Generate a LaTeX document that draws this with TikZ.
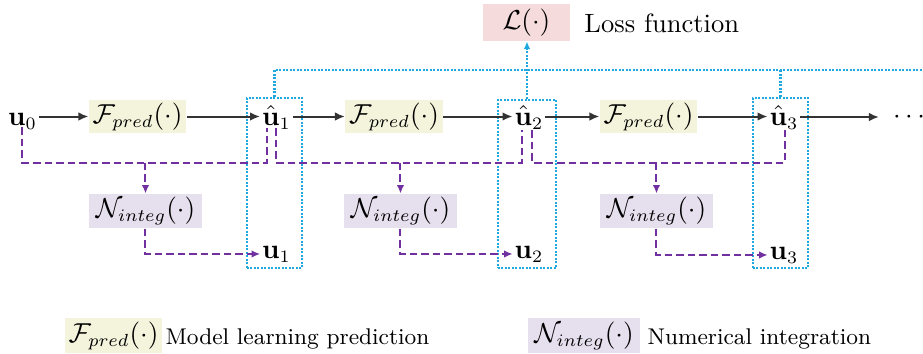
\documentclass[tikz,border=0pt]{standalone}
\usetikzlibrary{arrows.meta,calc}
\definecolor{fcol}{HTML}{F4F4DC}
\definecolor{ncol}{HTML}{E6E0EE}
\definecolor{lcol}{HTML}{F6DBDD}
\definecolor{bl}{HTML}{1FA8E0}
\definecolor{pu}{HTML}{7030A0}
\definecolor{ar}{HTML}{333333}
\begin{document}
\begin{tikzpicture}[x=0.4pt,y=-0.4pt,
 every node/.style={font=\fontsize{10.6}{13}\selectfont},
 fbox/.style={fill=fcol, minimum width=38.8pt, minimum height=13.2pt, inner sep=0pt},
 nbox/.style={fill=ncol, minimum width=45.2pt, minimum height=13.6pt, inner sep=0pt},
 lbox/.style={fill=lcol, minimum width=34.8pt, minimum height=14.8pt, inner sep=0pt},
 lbl/.style={inner sep=0.6pt},
 blubox/.style={draw=bl, line width=1pt, dash pattern=on 0.8pt off 0.6pt},
 blk/.style={draw=ar, line width=0.8pt, -{Latex[length=4pt,width=3.4pt]}},
 pur/.style={draw=pu, line width=0.8pt, dash pattern=on 3pt off 1.6pt},
 purarr/.style={pur, -{Latex[length=3.4pt,width=3pt]}},
 blu/.style={draw=bl, line width=1pt, dash pattern=on 0.8pt off 0.6pt},
 bluarr/.style={blu, -{Latex[length=3pt,width=2.6pt]}},
 legtext/.style={font=\fontsize{9.1}{11}\selectfont, inner sep=0pt, anchor=base west}
]
\useasboundingbox (0,0) rectangle (923,354);

% blue boxes (behind)
\node[blubox, minimum width=22pt, minimum height=68pt] (b1) at (274.5,183) {};
\node[blubox, minimum width=23.2pt, minimum height=67.2pt] (b2) at (527,184) {};
\node[blubox, minimum width=22pt, minimum height=68pt] (b3) at (780.5,183) {};

% loss
\node[lbox] (L) at (526.5,22.5) {$\mathcal{L}(\cdot)$};
\node[inner sep=0pt, anchor=base west] (lt) at (584,32) {Loss function};

% main row
\node[lbl, anchor=base] (u0) at (22.5,125) {$\mathbf{u}_0$};
\node[fbox] (f1) at (137.5,116.5) {$\mathcal{F}_{pred}(\cdot)$};
\node[lbl, anchor=base] (h1) at (276.5,125) {$\hat{\mathbf{u}}_1$};
\node[fbox] (f2) at (394,116.5) {$\mathcal{F}_{pred}(\cdot)$};
\node[lbl, anchor=base] (h2) at (529,125) {$\hat{\mathbf{u}}_2$};
\node[fbox] (f3) at (648.5,116.5) {$\mathcal{F}_{pred}(\cdot)$};
\node[lbl, anchor=base] (h3) at (784,125) {$\hat{\mathbf{u}}_3$};
\node[anchor=west, inner xsep=5.4pt, inner ysep=0pt] (dots) at (879,117) {$\cdots$};

% integration row
\node[nbox] (n1) at (145.5,211) {$\mathcal{N}_{integ}(\cdot)$};
\node[nbox] (n2) at (400.5,211) {$\mathcal{N}_{integ}(\cdot)$};
\node[nbox] (n3) at (656.5,211) {$\mathcal{N}_{integ}(\cdot)$};
\node[lbl, anchor=base] (u1) at (276.5,258) {$\mathbf{u}_1$};
\node[lbl, anchor=base] (u2) at (529,258) {$\mathbf{u}_2$};
\node[lbl, anchor=base] (u3) at (784,259) {$\mathbf{u}_3$};

% black arrows
\draw[blk] (u0.east |- f1.west) -- (f1.west);
\draw[blk] (f1.east) -- (f1.east -| h1.west);
\draw[blk] (h1.east |- f2.west) -- (f2.west);
\draw[blk] (f2.east) -- (f2.east -| h2.west);
\draw[blk] (h2.east |- f3.west) -- (f3.west);
\draw[blk] (f3.east) -- (f3.east -| h3.west);
\draw[blk] (h3.east |- dots.west) -- (dots.west);

% purple dashed
\coordinate (rail) at (0,162.5);
\coordinate (s1) at (22.5,127);
\coordinate (e1) at (267,128);
\coordinate (s2) at (276,128);
\coordinate (e2) at (522,130);
\coordinate (s3) at (532,130);
\coordinate (e3) at (785,128);
\draw[pur] (s1) -- (s1 |- rail) -| (e1);
\draw[pur] (s2) -- (s2 |- rail) -| (e2);
\draw[pur] (s3) -- (s3 |- rail) -| (e3);
\draw[purarr] (n1.north |- rail) -- (n1.north);
\draw[purarr] (n2.north |- rail) -- (n2.north);
\draw[purarr] (n3.north |- rail) -- (n3.north);
\draw[purarr] (n1.south) |- (u1.west);
\draw[purarr] (n2.south) |- (u2.west);
\draw[purarr] (n3.south) |- (u3.west);

% blue dotted
\coordinate (tend) at (923,70);
\draw[blu] (b1.north) |- (tend);
\draw[blu] (b3.north) -- (b3.north |- tend);
\draw[bluarr] (b2.north) -- (b2.north |- L.south);

% legend
\node[fbox, minimum height=14pt] (lf) at (113.5,335.5) {$\mathcal{F}_{pred}(\cdot)$};
\node[legtext] (lft) at (165,344) {Model learning prediction};
\node[nbox, minimum width=44.8pt, minimum height=14pt] (ln) at (584,335.5) {$\mathcal{N}_{integ}(\cdot)$};
\node[legtext] (lnt) at (647,344) {Numerical integration};
\end{tikzpicture}
\end{document}
